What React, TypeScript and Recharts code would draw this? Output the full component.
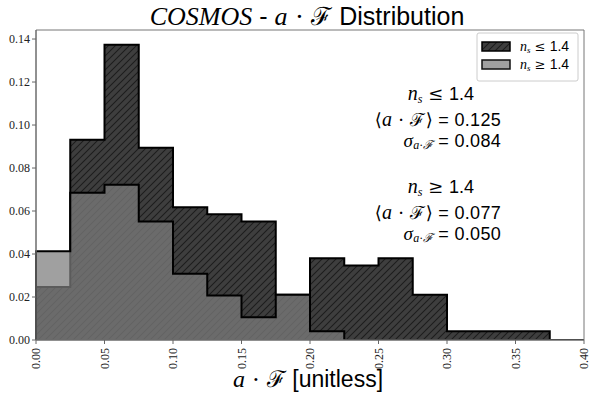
import React from "react";
import { ComposedChart, Area, XAxis, YAxis, ReferenceArea, Customized } from "recharts";

// bin left edges (width 0.025)
const binEdges = [0, 0.025, 0.05, 0.075, 0.1, 0.125, 0.15, 0.175, 0.2, 0.225, 0.25, 0.275, 0.3, 0.325, 0.35, 0.375];
const binEnd = 0.4;
// n_s <= 1.4 (hatched dark)
const lowNs = [0.0246, 0.0931, 0.1373, 0.0894, 0.0618, 0.0585, 0.0551, 0.021, 0.038, 0.0347, 0.038, 0.021, 0.0041, 0.0041, 0.0041, 0];
// n_s >= 1.4 (light gray)
const highNs = [0.0413, 0.0685, 0.0722, 0.0551, 0.0308, 0.0207, 0.0106, 0.021, 0.0041, 0, 0, 0, 0, 0, 0, 0];
const xTicks = [0, 0.05, 0.1, 0.15, 0.2, 0.25, 0.3, 0.35, 0.4];
const yTicks = [0, 0.02, 0.04, 0.06, 0.08, 0.1, 0.12, 0.14];
const yMax = 0.1442;

const statsLow = { label: "1.4", mean: "0.125", sigma: "0.084" };
const statsHigh = { label: "1.4", mean: "0.077", sigma: "0.050" };

const data = [
  { x: 0, low: 0, high: 0 },
  ...binEdges.map((e, i) => ({ x: e, low: lowNs[i], high: highNs[i] })),
  { x: binEnd, low: 0, high: 0 },
];

const SERIF = "'Liberation Serif', 'DejaVu Serif', serif";
const SANS = "'Liberation Sans', 'DejaVu Sans', sans-serif";
const MATH = "'DejaVu Serif', serif";

const XTick = (props: any) => {
  const { x, y, payload } = props;
  return (
    <text
      transform={`translate(${x},${y + 2}) rotate(-90)`}
      textAnchor="end"
      dominantBaseline="central"
      fontFamily={SERIF}
      fontSize={12}
      fill="#222"
    >
      {Number(payload.value).toFixed(2)}
    </text>
  );
};

const YTick = (props: any) => {
  const { x, y, payload } = props;
  return (
    <text x={x} y={y} textAnchor="end" dominantBaseline="central" fontFamily={SERIF} fontSize={12} fill="#222">
      {Number(payload.value).toFixed(2)}
    </text>
  );
};

const It = ({ children, size }: any) => (
  <tspan fontFamily={SERIF} fontStyle="italic" fontSize={size}>
    {children}
  </tspan>
);

const Stats = ({ y, sym, s }: any) => (
  <g fill="#000">
    <text x={474} y={y} textAnchor="end" fontSize={18} fontFamily={SANS}>
      <It size={20}>n</It>
      <tspan fontFamily={SERIF} fontStyle="italic" fontSize={12} dy={3}>s</tspan>
      <tspan dy={-3} fontFamily={MATH} fontSize={18}>{"  "}{sym}{" "}</tspan>
      <tspan>{s.label}</tspan>
    </text>
    <text x={501} y={y + 26} textAnchor="end" fontSize={18} fontFamily={SANS} letterSpacing={0.3}>
      <tspan fontFamily={MATH} fontSize={18}>⟨</tspan>
      <It size={20}>a</It>
      <tspan fontFamily={MATH} fontSize={18}> · </tspan>
      <tspan fontFamily={MATH} fontSize={18}>ℱ</tspan>
      <tspan fontFamily={MATH} fontSize={18}>⟩</tspan>
      <tspan> = {s.mean}</tspan>
    </text>
    <text x={501} y={y + 47} textAnchor="end" fontSize={18} fontFamily={SANS} letterSpacing={0.3}>
      <It size={19}>σ</It>
      <tspan fontSize={12} dy={2} fontFamily={SERIF} fontStyle="italic">a·ℱ</tspan>
      <tspan dy={-2}> = {s.sigma}</tspan>
    </text>
  </g>
);

const Decor = () => (
  <g>
    {/* title */}
    <text x={307} y={25} textAnchor="middle" fontSize={25} fontFamily={SANS} fill="#000">
      <It size={26}>COSMOS</It>
      <tspan> - </tspan>
      <It size={26}>a</It>
      <tspan fontFamily={MATH}> · </tspan>
      <tspan fontFamily={MATH}>ℱ</tspan>
      <tspan> Distribution</tspan>
    </text>
    {/* x label */}
    <text x={308} y={387} textAnchor="middle" fontSize={23} fontFamily={SANS} fill="#000">
      <It size={24}>a</It>
      <tspan fontFamily={MATH}> · </tspan>
      <tspan fontFamily={MATH}>ℱ</tspan>
      <tspan> [unitless]</tspan>
    </text>
    {/* legend */}
    <rect x={477} y={33} width={101} height={48} fill="#fff" fillOpacity={0.85} stroke="#ccc" strokeWidth={1} rx={2} />
    <rect x={482} y={42} width={28} height={9} fill="url(#hatch)" stroke="#000" strokeWidth={1.5} />
    <rect x={482} y={60} width={28} height={9} fill="#a0a0a0" stroke="#111" strokeWidth={1.5} />
    <text x={520} y={51} fontSize={14} fontFamily={SANS} fill="#000">
      <It>n</It>
      <tspan fontFamily={SERIF} fontStyle="italic" fontSize={9} dy={2}>s</tspan>
      <tspan dy={-2} fontFamily={MATH} fontSize={13}> ≤ </tspan>
      <tspan>1.4</tspan>
    </text>
    <text x={520} y={69} fontSize={14} fontFamily={SANS} fill="#000">
      <It>n</It>
      <tspan fontFamily={SERIF} fontStyle="italic" fontSize={9} dy={2}>s</tspan>
      <tspan dy={-2} fontFamily={MATH} fontSize={13}> ≥ </tspan>
      <tspan>1.4</tspan>
    </text>
    <Stats y={100} sym="≤" s={statsLow} />
    <Stats y={193} sym="≥" s={statsHigh} />
  </g>
);

export default function App() {
  return (
    <div style={{ position: "absolute", left: 0, top: 0, width: 598, height: 399, background: "#fff" }}>
      <ComposedChart width={598} height={399} data={data} margin={{ top: 30, right: 14, bottom: 19, left: 0 }}>
        <defs>
          <pattern id="hatch" patternUnits="userSpaceOnUse" width={7} height={7}>
            <rect x={0} y={0} width={7} height={7} fill="#3e3e3e" />
            <path d="M-1,1 l2,-2 M0,7 l7,-7 M6,8 l2,-2" stroke="#1c1c1c" strokeWidth={1.1} />
          </pattern>
        </defs>
        <XAxis
          dataKey="x"
          type="number"
          domain={[0, 0.4]}
          ticks={xTicks}
          tick={<XTick />}
          height={40}
          tickSize={4}
          axisLine={{ stroke: "#666" }}
          tickLine={{ stroke: "#666" }}
          allowDuplicatedCategory
        />
        <YAxis
          type="number"
          domain={[0, yMax]}
          ticks={yTicks}
          tick={<YTick />}
          width={36}
          tickSize={4}
          axisLine={{ stroke: "#666" }}
          tickLine={{ stroke: "#666" }}
          allowDataOverflow
        />
        <Area
          dataKey="low"
          type="stepAfter"
          fill="url(#hatch)"
          fillOpacity={1}
          stroke="#000"
          strokeWidth={2}
          isAnimationActive={false}
          dot={false}
          activeDot={false}
        />
        <Area
          dataKey="high"
          type="stepAfter"
          fill="#7d7d7d"
          fillOpacity={0.73}
          stroke="#000"
          strokeWidth={2}
          isAnimationActive={false}
          dot={false}
          activeDot={false}
        />
        <ReferenceArea x1={0} x2={0.4} y1={0} y2={yMax} fill="none" stroke="#777" strokeWidth={1} ifOverflow="visible" />
        <Customized component={Decor} />
      </ComposedChart>
    </div>
  );
}
